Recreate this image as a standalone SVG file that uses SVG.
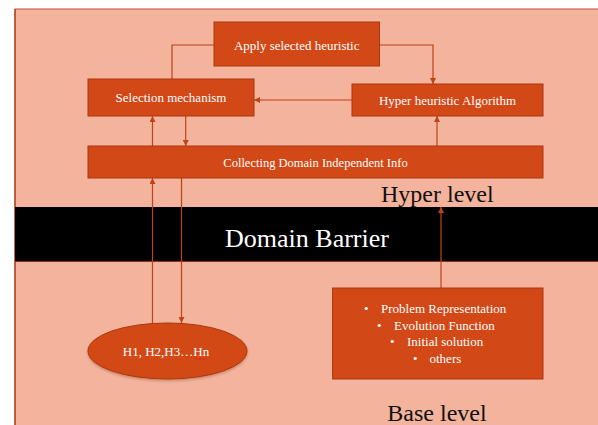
<svg xmlns="http://www.w3.org/2000/svg" width="598" height="425" viewBox="0 0 598 425" font-family="'Liberation Serif', 'Times New Roman', 'DejaVu Serif', serif">
<defs>
<style>
.box{fill:#D24816;stroke:#A9390F;stroke-width:1}
.lbl{fill:#FFFFFF;font-size:13px;text-anchor:middle}
.big{font-size:24px}
.con{fill:none;stroke:#BE4318;stroke-width:1.2}
</style>
<marker id="ah" viewBox="0 0 10 10" refX="10" refY="5" markerWidth="6" markerHeight="6" markerUnits="userSpaceOnUse" orient="auto">
<path d="M0,0 L10,5 L0,10 z" fill="#BE4318"/>
</marker>
<filter id="sh" x="-10%" y="-10%" width="120%" height="130%">
<feDropShadow dx="0" dy="1.5" stdDeviation="1.2" flood-color="#7a2a10" flood-opacity="0.35"/>
</filter>
</defs>
<rect x="0" y="0" width="598" height="425" fill="#FFFFFF"/>
<rect x="15" y="9" width="590" height="420" fill="#F3B39C" stroke="#C4503A" stroke-width="1"/>
<line x1="15" y1="9" x2="15" y2="425" stroke="#A9390F" stroke-width="1.2"/>
<rect x="15" y="207" width="583" height="54" fill="#000000"/>
<line x1="15" y1="261.5" x2="598" y2="261.5" stroke="#8a2e0c" stroke-width="1"/>
<text x="307" y="247" fill="#FFFFFF" font-size="26" text-anchor="middle" font-family="'Liberation Serif', serif">Domain Barrier</text>
<text class="big" x="381" y="202" fill="#111111" font-family="'Liberation Serif', serif">Hyper level</text>
<text class="big" x="437" y="421" fill="#111111" text-anchor="middle" font-family="'Liberation Serif', serif">Base level</text>

<g id="connectors">
<polyline class="con" points="214,45 172,45 172,79"/>
<polyline class="con" points="379.5,45 433,45 433,84" marker-end="url(#ah)"/>
<line class="con" x1="352" y1="100" x2="254" y2="100" marker-end="url(#ah)"/>
<line class="con" x1="152.5" y1="146" x2="152.5" y2="116" marker-end="url(#ah)"/>
<line class="con" x1="185.7" y1="116" x2="185.7" y2="146" marker-end="url(#ah)"/>
<line class="con" x1="437" y1="146" x2="437" y2="116" marker-end="url(#ah)"/>
<line class="con" x1="152.5" y1="323" x2="152.5" y2="178" marker-end="url(#ah)"/>
<line class="con" x1="181.5" y1="178" x2="181.5" y2="323" marker-end="url(#ah)"/>
<line class="con" x1="441" y1="288" x2="441" y2="207" marker-end="url(#ah)"/>
</g>

<g id="apply" font-family="'Liberation Serif', serif">
<rect class="box" x="214" y="22" width="165.5" height="44"/>
<text class="lbl" x="296.7" y="50">Apply selected heuristic</text>
</g>
<g id="selection" font-family="'Liberation Serif', serif">
<rect class="box" x="88" y="79" width="166" height="37"/>
<text class="lbl" x="171" y="102">Selection mechanism</text>
</g>
<g id="hyperalg" font-family="'Liberation Serif', serif">
<rect class="box" x="352" y="84" width="191" height="32"/>
<text class="lbl" x="447.5" y="105">Hyper heuristic Algorithm</text>
</g>
<g id="collecting" font-family="'Liberation Serif', serif">
<rect class="box" x="88" y="146" width="455" height="32"/>
<text class="lbl" x="315.5" y="167" font-size="12.5" style="font-size:12.5px">Collecting Domain Independent Info</text>
</g>
<g id="heuristics" font-family="'Liberation Serif', serif">
<ellipse cx="167.5" cy="351" rx="79.5" ry="28" fill="#D24816" stroke="#A9390F" stroke-width="1" filter="url(#sh)"/>
<text class="lbl" x="166" y="356">H1, H2,H3…Hn</text>
<path d="M195,359 q1.2,-1.6 2.4,0 t2.4,0 t2.4,0 t2.4,0 t2.4,0" fill="none" stroke="#E02020" stroke-width="0.9"/>
</g>
<g id="base" font-family="'Liberation Serif', serif">
<rect class="box" x="332.6" y="288" width="210.4" height="91"/>
<text class="lbl" style="text-anchor:start">
<tspan x="364" y="313">•</tspan><tspan x="381" y="313">Problem Representation</tspan>
<tspan x="377" y="330">•</tspan><tspan x="394" y="330">Evolution Function</tspan>
<tspan x="390" y="346">•</tspan><tspan x="407" y="346">Initial solution</tspan>
<tspan x="413" y="363">•</tspan><tspan x="429.5" y="363">others</tspan>
</text>
</g>
</svg>
